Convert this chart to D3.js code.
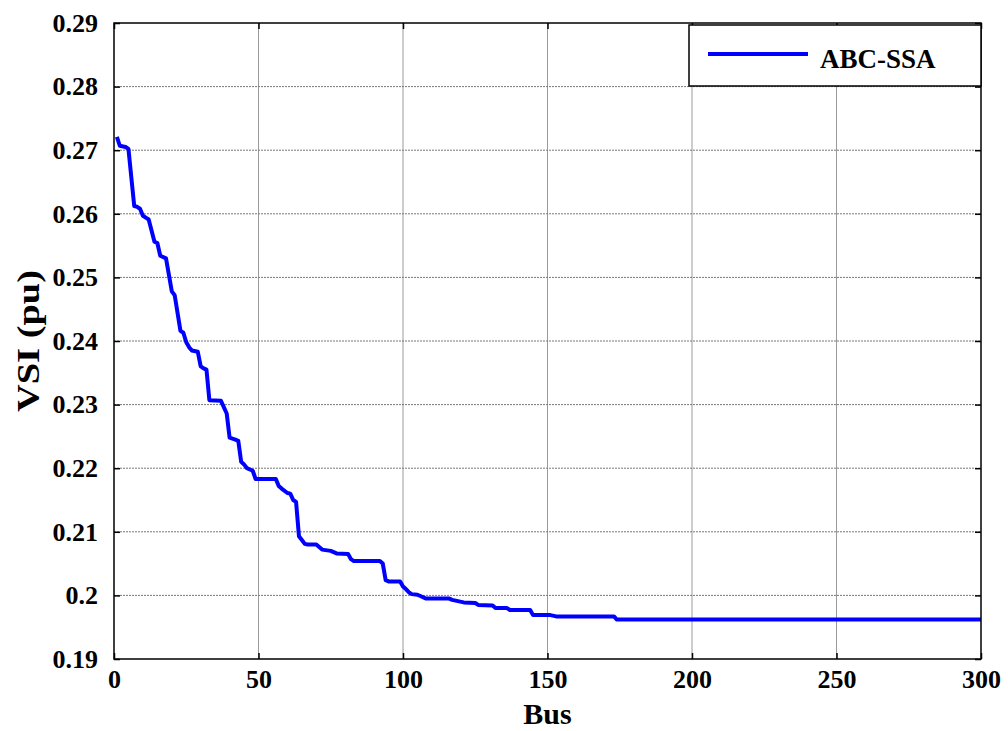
<!DOCTYPE html>
<html>
<head>
<meta charset="utf-8">
<script src="https://cdn.jsdelivr.net/npm/d3@7"></script>
<style>
  body { margin: 0; background: #fff; }
  svg { display: block; font-family: "Liberation Serif", "Times New Roman", serif; }
</style>
</head>
<body>
<svg id="chart" width="1008" height="731"></svg>
<script>
// vertices of the VSI curve (bus number, value in pu)
const busNo = [1, 2, 4, 5, 7, 8, 9, 10, 11, 12, 14, 15, 16, 18, 20, 21, 23, 24, 25, 26,
  27, 29, 30, 31, 32, 33, 37, 38, 39, 40, 42, 43, 44, 45, 46, 48, 49, 56, 57, 58,
  60, 61, 62, 63, 64, 65, 66, 67, 70, 71, 72, 75, 76, 77, 81, 82, 83, 92, 93, 94,
  95, 99, 100, 101, 102, 103, 105, 106, 108, 116, 117, 119, 121, 125, 126, 131, 132, 136, 137, 144,
  145, 151, 153, 173, 174, 300];
const vsi = [0.2721, 0.2707, 0.2705, 0.2702, 0.2612, 0.2611, 0.2608, 0.2597, 0.2594, 0.2591,
  0.2556, 0.2554, 0.2534, 0.2530, 0.2478, 0.2472, 0.2416, 0.2413, 0.2398, 0.2390,
  0.2385, 0.2383, 0.2360, 0.2357, 0.2355, 0.2307, 0.2306, 0.2296, 0.2286, 0.2248,
  0.2245, 0.2243, 0.2210, 0.2206, 0.2200, 0.2196, 0.2183, 0.2183, 0.2172, 0.2168,
  0.2161, 0.2160, 0.2150, 0.2147, 0.2093, 0.2087, 0.2081, 0.2080, 0.2080, 0.2076,
  0.2072, 0.2070, 0.2068, 0.2066, 0.2065, 0.2057, 0.2054, 0.2054, 0.2050, 0.2024,
  0.2022, 0.2022, 0.2014, 0.2010, 0.2005, 0.2002, 0.2001, 0.1999, 0.1995, 0.1995,
  0.1993, 0.1991, 0.1989, 0.1988, 0.1985, 0.1984, 0.1980, 0.1980, 0.1977, 0.1977,
  0.1969, 0.1969, 0.1967, 0.1967, 0.1962, 0.1962];

const xTicks = [0, 50, 100, 150, 200, 250, 300];
const yTicks = [0.19, 0.2, 0.21, 0.22, 0.23, 0.24, 0.25, 0.26, 0.27, 0.28, 0.29];
const seriesName = "ABC-SSA";

const plot = { left: 114, right: 981, top: 23, bottom: 659 };

const svg = d3.select("#chart");

const x = d3.scaleLinear().domain([0, 300]).range([plot.left, plot.right]);
const y = d3.scaleLinear().domain([0.19, 0.29]).range([plot.bottom, plot.top]);

const fmtY = d => String(+d.toFixed(2));

// grid lines
svg.append("g")
  .selectAll("line")
  .data(xTicks.slice(1, -1))
  .join("line")
  .attr("x1", d => x(d)).attr("x2", d => x(d))
  .attr("y1", plot.top).attr("y2", plot.bottom)
  .attr("stroke", "#9a9a9a")
  .attr("stroke-width", 1);

svg.append("g")
  .selectAll("line")
  .data(yTicks.slice(1, -1))
  .join("line")
  .attr("x1", plot.left).attr("x2", plot.right)
  .attr("y1", d => y(d)).attr("y2", d => y(d))
  .attr("stroke", "#777")
  .attr("stroke-width", 1)
  .attr("stroke-dasharray", "2,1");

// axes with inward ticks
function styleAxis(g) {
  g.attr("font-family", null).attr("font-size", null);
  g.select(".domain").remove();
  g.selectAll(".tick line").attr("stroke", "#000").attr("stroke-width", 1.5);
  g.selectAll("text")
    .attr("fill", "#000")
    .style("font-size", "26px")
    .style("font-weight", "bold");
}

svg.append("g")
  .attr("transform", `translate(0,${plot.bottom})`)
  .call(d3.axisBottom(x).tickValues(xTicks).tickSizeInner(-6).tickSizeOuter(0).tickPadding(11))
  .call(styleAxis);

svg.append("g")
  .attr("transform", `translate(${plot.left},0)`)
  .call(d3.axisLeft(y).tickValues(yTicks).tickFormat(fmtY).tickSizeInner(-6).tickSizeOuter(0).tickPadding(16))
  .call(styleAxis);

svg.append("g")
  .attr("transform", `translate(0,${plot.top})`)
  .call(d3.axisTop(x).tickValues(xTicks).tickFormat("").tickSizeInner(-6).tickSizeOuter(0))
  .call(styleAxis);

svg.append("g")
  .attr("transform", `translate(${plot.right},0)`)
  .call(d3.axisRight(y).tickValues(yTicks).tickFormat("").tickSizeInner(-6).tickSizeOuter(0))
  .call(styleAxis);

// the VSI curve
const line = d3.line()
  .x((d, i) => x(busNo[i]))
  .y(d => y(d));

svg.append("path")
  .datum(vsi)
  .attr("d", line)
  .attr("fill", "none")
  .attr("stroke", "#0000ff")
  .attr("stroke-width", 4)
  .attr("stroke-linejoin", "round");

// axes box
svg.append("rect")
  .attr("x", plot.left).attr("y", plot.top)
  .attr("width", plot.right - plot.left)
  .attr("height", plot.bottom - plot.top)
  .attr("fill", "none")
  .attr("stroke", "#000")
  .attr("stroke-width", 1.5);

// axis titles
svg.append("text")
  .attr("x", (plot.left + plot.right) / 2)
  .attr("y", 724)
  .attr("text-anchor", "middle")
  .style("font-size", "30px")
  .style("font-weight", "bold")
  .text("Bus");

svg.append("text")
  .attr("transform", `translate(39,${(plot.top + plot.bottom) / 2}) rotate(-90)`)
  .attr("text-anchor", "middle")
  .attr("textLength", 142)
  .attr("lengthAdjust", "spacingAndGlyphs")
  .style("font-size", "32px")
  .style("font-weight", "bold")
  .text("VSI (pu)");

// legend
const legend = svg.append("g");
legend.append("rect")
  .attr("x", 689).attr("y", 25)
  .attr("width", plot.right - 689).attr("height", 61)
  .attr("fill", "#fff")
  .attr("stroke", "#000")
  .attr("stroke-width", 1.5);
legend.append("line")
  .attr("x1", 708).attr("x2", 808)
  .attr("y1", 54).attr("y2", 54)
  .attr("stroke", "#0000ff")
  .attr("stroke-width", 4);
legend.append("text")
  .attr("x", 820).attr("y", 68)
  .style("font-size", "27px")
  .style("font-weight", "bold")
  .text(seriesName);
</script>
</body>
</html>
